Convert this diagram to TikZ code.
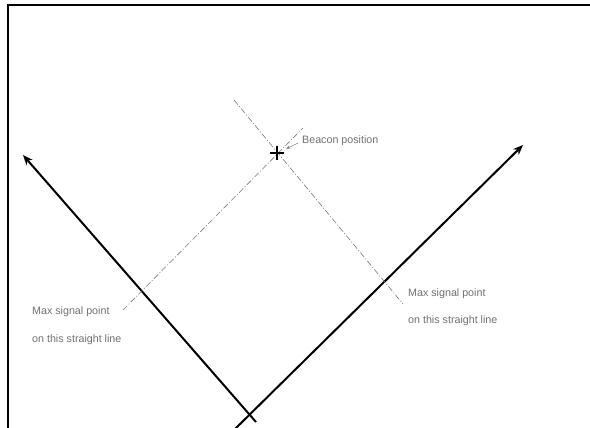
\documentclass[tikz,border=0pt]{standalone}
\usepackage{fontspec}
\setmainfont{Liberation Sans}
\usepackage{xcolor}
\usepackage{tikz}
\usetikzlibrary{arrows.meta, positioning, calc}
\definecolor{labelgray}{RGB}{112,112,112}
\definecolor{dashgray}{RGB}{120,120,120}

\begin{document}
\begin{tikzpicture}[x=1pt, y=-1pt,
    lbl/.style={anchor=base west, inner sep=0pt, text=labelgray, font=\fontsize{10.7}{12}\selectfont},
    axisline/.style={line width=2pt, -{Stealth[length=10pt, width=8pt]}},
    signal/.style={dashgray, line width=0.6pt, dash pattern=on 6pt off 2pt on 1pt off 2pt}]
        \useasboundingbox (0,0) rectangle (590,428);
        % Frame
        \draw[line width=1.6pt] (8,428) -- (8,5) -- (590,5);
        % Points
        \coordinate (beacon) at (277,153);
        \coordinate (leftTip) at (23,155);
        \coordinate (leftEnd) at (256,422);
        \coordinate (rightTip) at (523,145);
        \coordinate (rightEnd) at (234,430);
        % Axes
        \draw[axisline] (leftEnd) -- (leftTip);
        \draw[axisline] (rightEnd) -- (rightTip);
        % Signal lines
        \draw[signal] (123,310) -- (303,128);
        \draw[signal] (234,100) -- (403,304);
        % Beacon
        \draw[line width=2.2pt] ($(beacon)+(-7,0)$) -- ($(beacon)+(7,0)$);
        \draw[line width=2.2pt] ($(beacon)+(0,-7)$) -- ($(beacon)+(0,7)$);
        % Labels
        \node[lbl] (beaconLbl) at (302,144) {Beacon position};
        \draw[dashgray, line width=0.5pt, shorten <=4pt, shorten >=10pt, -{Stealth[length=4pt, width=3pt]}] (beaconLbl.west) -- (beacon);
        \node[lbl] (maxLeft) at (32,314) {Max signal point};
        \node[lbl] (lineLeft) at (32,342) {on this straight line};
        \node[lbl] (maxRight) at (408,296) {Max signal point};
        \node[lbl] (lineRight) at (408,323) {on this straight line};
    \end{tikzpicture}
\end{document}
